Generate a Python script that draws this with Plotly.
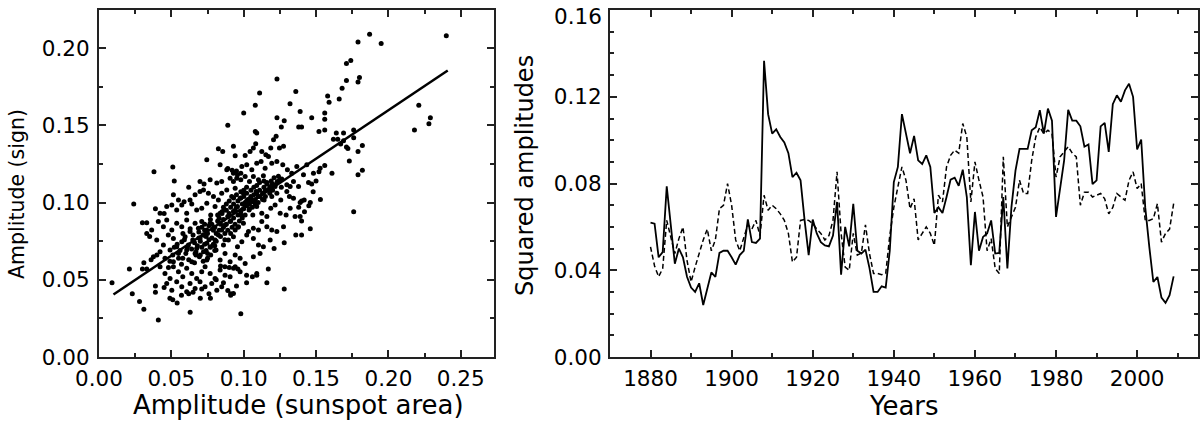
import plotly.graph_objects as go

# ---------------- Left panel: scatter data ----------------
scatter_pts = [
    # outer / sparse points
    (0.187,0.209),(0.240,0.208),(0.179,0.204),(0.195,0.203),(0.174,0.192),(0.171,0.190),(0.180,0.181),
    (0.171,0.179),(0.179,0.178),(0.123,0.180),(0.168,0.174),(0.111,0.171),(0.136,0.172),(0.158,0.169),
    (0.166,0.167),(0.159,0.165),(0.108,0.163),(0.221,0.163),(0.132,0.164),(0.229,0.155),(0.228,0.151),
    (0.218,0.147),(0.100,0.158),(0.139,0.159),(0.123,0.155),(0.147,0.155),(0.156,0.158),(0.156,0.154),
    (0.089,0.150),(0.128,0.153),(0.126,0.149),(0.138,0.149),(0.140,0.149),(0.108,0.146),(0.156,0.147),
    (0.152,0.146),(0.109,0.145),(0.164,0.145),(0.169,0.145),(0.176,0.147),(0.162,0.141),(0.176,0.142),
    (0.182,0.137),(0.179,0.133),(0.171,0.136),(0.167,0.138),(0.165,0.141),(0.169,0.140),(0.172,0.135),
    (0.173,0.127),(0.182,0.121),(0.179,0.118),(0.176,0.094),(0.153,0.102),(0.156,0.124),(0.161,0.119),
    (0.152,0.120),(0.150,0.114),(0.147,0.112),(0.148,0.107),(0.146,0.100),(0.145,0.098),(0.142,0.094),
    (0.140,0.088),(0.146,0.083),(0.140,0.079),(0.136,0.079),(0.140,0.101),(0.138,0.097),(0.128,0.074),
    (0.128,0.044),(0.116,0.048),(0.109,0.053),(0.117,0.057),(0.098,0.028),(0.063,0.029),(0.041,0.024),
    (0.031,0.031),(0.028,0.036),(0.023,0.041),(0.009,0.048),(0.021,0.057),(0.024,0.099),(0.038,0.120),
    (0.051,0.123),(0.052,0.114),(0.062,0.110),(0.033,0.080),(0.030,0.087),(0.033,0.087),(0.039,0.096),
    (0.045,0.093),(0.035,0.078),(0.031,0.061),(0.030,0.057),(0.033,0.057),(0.036,0.063),(0.040,0.066),
    (0.039,0.046),(0.039,0.042),(0.045,0.045),(0.049,0.038),(0.051,0.037),(0.054,0.035),(0.057,0.040),
    (0.065,0.042),(0.062,0.041),(0.070,0.038),(0.077,0.038),(0.076,0.041),(0.071,0.044),(0.081,0.050),
    (0.086,0.048),(0.089,0.043),(0.091,0.041),(0.091,0.040),(0.095,0.046),(0.102,0.053),(0.102,0.048),
    (0.109,0.054),(0.106,0.052),
    # core, 0.13-0.14
    (0.0825,0.1348),(0.0855,0.1331),(0.0929,0.1364),(0.0941,0.1303),(0.1010,0.1305),(0.1044,0.1331),
    (0.1067,0.1353),(0.1083,0.1381),(0.1125,0.1331),(0.1153,0.1310),(0.1187,0.1353),(0.1206,0.1407),
    (0.1224,0.1429),(0.1247,0.1353),(0.1275,0.1364),
    # 0.12-0.13
    (0.0745,0.1277),(0.0837,0.1245),(0.0883,0.1212),(0.0929,0.1190),(0.0952,0.1158),(0.0987,0.1234),
    (0.1021,0.1245),(0.1056,0.1212),(0.1090,0.1255),(0.1120,0.1266),(0.1148,0.1223),(0.1171,0.1299),
    (0.1194,0.1255),(0.1229,0.1266),(0.1270,0.1245),(0.1302,0.1212),(0.1332,0.1190),(0.1367,0.1234),
    (0.1436,0.1245),(0.1482,0.1190),(0.1528,0.1223),
    # 0.11-0.12
    (0.0698,0.1136),(0.0726,0.1121),(0.0768,0.1147),(0.0814,0.1126),(0.0848,0.1136),(0.0906,0.1158),
    (0.0929,0.1136),(0.0957,0.1180),(0.0980,0.1147),(0.1010,0.1169),(0.1040,0.1136),(0.1067,0.1169),
    (0.1102,0.1147),(0.1136,0.1173),(0.1160,0.1130),(0.1194,0.1115),(0.1217,0.1104),(0.1233,0.1136),
    (0.1263,0.1152),(0.1298,0.1115),(0.1321,0.1104),(0.1344,0.1136),(0.1379,0.1104),(0.1413,0.1180),
    (0.1448,0.1130),
    # 0.10-0.11
    (0.0514,0.1050),(0.0549,0.1017),(0.0588,0.1006),(0.0629,0.1017),(0.0664,0.1050),(0.0698,0.1071),
    (0.0722,0.1082),(0.0756,0.1061),(0.0791,0.1039),(0.0825,0.1017),(0.0848,0.1061),(0.0883,0.1082),
    (0.0917,0.1039),(0.0941,0.1093),(0.0975,0.1028),(0.0998,0.1061),(0.1026,0.1017),(0.1049,0.1039),
    (0.1067,0.1006),(0.1086,0.1071),(0.1113,0.1039),(0.1141,0.1017),(0.1171,0.1082),(0.1194,0.1039),
    (0.1229,0.1061),(0.1256,0.1017),(0.1298,0.1071),(0.1316,0.1039),(0.1344,0.1028),(0.1390,0.1000),
    (0.1418,0.1017),
    # 0.09-0.10
    (0.0422,0.0931),(0.0468,0.0974),(0.0503,0.0985),(0.0537,0.0952),(0.0572,0.0985),(0.0606,0.0931),
    (0.0641,0.0991),(0.0675,0.0952),(0.0710,0.0963),(0.0745,0.0996),(0.0772,0.0920),(0.0802,0.0974),
    (0.0837,0.0931),(0.0864,0.0952),(0.0894,0.0909),(0.0929,0.0942),(0.0957,0.0974),(0.0980,0.0920),
    (0.1010,0.0991),(0.1037,0.0952),(0.1063,0.0920),(0.1090,0.0974),(0.1125,0.0931),(0.1160,0.0909),
    (0.1187,0.0963),(0.1217,0.0985),(0.1252,0.0931),(0.1293,0.0920),(0.1321,0.0963),(0.1355,0.0909),
    (0.1390,0.0909),
    # 0.08-0.09
    (0.0364,0.0823),(0.0410,0.0877),(0.0445,0.0844),(0.0468,0.0887),(0.0503,0.0823),(0.0537,0.0866),
    (0.0572,0.0844),(0.0606,0.0887),(0.0629,0.0812),(0.0664,0.0866),(0.0687,0.0833),(0.0710,0.0877),
    (0.0745,0.0823),(0.0768,0.0866),(0.0791,0.0833),(0.0825,0.0877),(0.0848,0.0823),(0.0871,0.0855),
    (0.0906,0.0877),(0.0941,0.0823),(0.0964,0.0844),(0.0998,0.0866),(0.1033,0.0812),(0.1067,0.0833),
    (0.1102,0.0823),(0.1125,0.0877),(0.1160,0.0844),(0.1194,0.0823),(0.1229,0.0812),(0.1275,0.0844),
    # 0.07-0.08
    (0.0399,0.0758),(0.0445,0.0725),(0.0479,0.0790),(0.0514,0.0768),(0.0537,0.0714),(0.0572,0.0747),
    (0.0595,0.0779),(0.0618,0.0725),(0.0648,0.0758),(0.0675,0.0703),(0.0698,0.0768),(0.0722,0.0790),
    (0.0745,0.0736),(0.0768,0.0714),(0.0802,0.0758),(0.0825,0.0790),(0.0860,0.0725),(0.0894,0.0758),
    (0.0929,0.0779),(0.0957,0.0714),(0.0987,0.0747),(0.1021,0.0790),(0.1067,0.0768),(0.1102,0.0725),
    (0.1136,0.0714),(0.1183,0.0758),(0.1210,0.0703),
    # 0.06-0.07
    (0.0376,0.0649),(0.0422,0.0682),(0.0456,0.0639),(0.0491,0.0693),(0.0514,0.0617),(0.0549,0.0671),
    (0.0579,0.0639),(0.0606,0.0693),(0.0641,0.0617),(0.0664,0.0671),(0.0694,0.0649),(0.0722,0.0682),
    (0.0745,0.0628),(0.0772,0.0660),(0.0809,0.0693),(0.0837,0.0628),(0.0871,0.0671),(0.0906,0.0617),
    (0.0941,0.0660),(0.0975,0.0639),(0.1010,0.0606),(0.1067,0.0649),(0.1113,0.0671),
    # 0.05-0.06
    (0.0422,0.0584),(0.0456,0.0541),(0.0491,0.0509),(0.0514,0.0584),(0.0549,0.0552),(0.0579,0.0519),
    (0.0606,0.0574),(0.0641,0.0541),(0.0675,0.0509),(0.0710,0.0552),(0.0733,0.0584),(0.0768,0.0541),
    (0.0802,0.0509),(0.0837,0.0563),(0.0871,0.0530),(0.0906,0.0519),(0.0941,0.0584),(0.0975,0.0552),
    # 0.04-0.05
    (0.0468,0.0476),(0.0503,0.0433),(0.0537,0.0487),(0.0572,0.0455),(0.0606,0.0422),(0.0629,0.0476),
    (0.0664,0.0444),(0.0698,0.0487),(0.0733,0.0455),(0.0779,0.0476),(0.0814,0.0433),(0.0848,0.0455),
    (0.0929,0.0411),
    # dense diagonal band
    (0.049,0.062),(0.051,0.066),(0.052,0.071),(0.048,0.058),
    (0.055,0.064),(0.056,0.069),(0.054,0.073),(0.057,0.060),
    (0.060,0.067),(0.061,0.071),(0.059,0.076),(0.062,0.063),(0.058,0.080),
    (0.064,0.070),(0.066,0.074),(0.065,0.079),(0.067,0.066),(0.063,0.083),(0.066,0.061),
    (0.068,0.072),(0.069,0.077),(0.067,0.068),(0.069,0.081),
    (0.071,0.071),(0.070,0.075),(0.072,0.079),(0.071,0.084),(0.070,0.066),(0.072,0.062),
    (0.073,0.073),(0.074,0.078),(0.073,0.082),(0.074,0.069),(0.073,0.086),(0.075,0.064),
    (0.076,0.076),(0.075,0.080),(0.077,0.071),(0.076,0.085),(0.075,0.067),(0.077,0.089),
    (0.078,0.077),(0.079,0.082),(0.078,0.086),(0.079,0.073),(0.080,0.069),
    (0.081,0.080),(0.080,0.084),(0.082,0.088),(0.081,0.075),(0.082,0.092),(0.080,0.072),
    (0.083,0.082),(0.084,0.086),(0.083,0.090),(0.084,0.078),(0.085,0.094),
    (0.086,0.084),(0.086,0.089),(0.085,0.093),(0.087,0.080),(0.086,0.097),(0.087,0.076),
    (0.088,0.086),(0.089,0.091),(0.088,0.095),(0.089,0.082),(0.088,0.099),
    (0.091,0.088),(0.090,0.093),(0.091,0.097),(0.092,0.084),(0.090,0.101),(0.091,0.080),
    (0.093,0.090),(0.094,0.095),(0.093,0.099),(0.094,0.086),(0.093,0.103),
    (0.096,0.092),(0.095,0.097),(0.096,0.101),(0.097,0.088),(0.095,0.105),(0.096,0.084),
    (0.098,0.094),(0.099,0.099),(0.098,0.103),(0.099,0.090),(0.098,0.107),
    (0.100,0.096),(0.101,0.100),(0.100,0.104),(0.101,0.092),(0.100,0.108),(0.102,0.101),
    (0.102,0.098),(0.103,0.102),(0.102,0.106),(0.103,0.100),(0.102,0.110),
    (0.104,0.099),(0.105,0.103),(0.104,0.096),(0.105,0.108),(0.104,0.101),
    (0.106,0.101),(0.107,0.105),(0.106,0.097),(0.107,0.110),
    (0.108,0.102),(0.109,0.106),(0.108,0.099),(0.109,0.111),
    (0.110,0.104),(0.111,0.108),(0.110,0.100),(0.111,0.113),
    (0.113,0.106),(0.114,0.110),(0.113,0.102),(0.114,0.114),
    (0.115,0.108),(0.116,0.112),(0.115,0.104),
    (0.118,0.110),(0.119,0.114),(0.118,0.106),
    (0.120,0.112),(0.121,0.116),(0.120,0.108),
    (0.123,0.113),(0.124,0.117),(0.125,0.115),(0.126,0.110),
    (0.084,0.059),(0.087,0.0585),(0.090,0.058),(0.093,0.0575),(0.096,0.057),
    (0.089,0.122),(0.092,0.121),(0.095,0.1205),(0.098,0.119),
]
amp_area = [p[0] for p in scatter_pts]
amp_sign = [p[1] for p in scatter_pts]

fit_x = [0.010, 0.241]
fit_y = [0.0405, 0.1855]

# ---------------- Right panel: time series ----------------
years = list(range(1880, 2010))
solid = [
    0.062, 0.0615, 0.046, 0.0484, 0.0787, 0.060, 0.043, 0.050, 0.046, 0.037,   # 1880-1889
    0.032, 0.030, 0.034, 0.024, 0.032, 0.039, 0.037, 0.048, 0.049, 0.049,      # 1890-1899
    0.046, 0.0426, 0.047, 0.049, 0.0635, 0.053, 0.0526, 0.0546, 0.1366, 0.112, # 1900-1909
    0.103, 0.105, 0.1015, 0.099, 0.094, 0.083, 0.085, 0.0815, 0.063, 0.047,    # 1910-1919
    0.0634, 0.057, 0.053, 0.0515, 0.051, 0.056, 0.0715, 0.038, 0.060, 0.051,   # 1920-1929
    0.0707, 0.049, 0.0477, 0.0495, 0.041, 0.030, 0.030, 0.0326, 0.032, 0.049,  # 1930-1939
    0.0807, 0.0877, 0.112, 0.103, 0.094, 0.102, 0.0907, 0.089, 0.093, 0.0877, # 1940-1949
    0.0664, 0.069, 0.0664, 0.0738, 0.0818, 0.0827, 0.079, 0.0864, 0.0738, 0.0423, # 1950-1959
    0.0669, 0.049, 0.0554, 0.057, 0.063, 0.0477, 0.048, 0.0738, 0.0408, 0.069, # 1960-1969
    0.086, 0.096, 0.096, 0.096, 0.1046, 0.106, 0.1138, 0.103, 0.1146, 0.109,   # 1970-1979
    0.0646, 0.077, 0.0907, 0.114, 0.109, 0.109, 0.1064, 0.097, 0.098, 0.0797,  # 1980-1989
    0.0815, 0.1064, 0.108, 0.0946, 0.1166, 0.1207, 0.1177, 0.123, 0.126, 0.120, # 1990-1999
    0.0957, 0.1003, 0.069, 0.0508, 0.0346, 0.0369, 0.0274, 0.025, 0.0285, 0.0372, # 2000-2009
]
dashed = [
    0.0508, 0.042, 0.037, 0.0408, 0.063, 0.055, 0.0477, 0.0546, 0.060, 0.0446, # 1880-1889
    0.0346, 0.0415, 0.0477, 0.054, 0.059, 0.049, 0.054, 0.0684, 0.070, 0.080,  # 1890-1899
    0.070, 0.054, 0.049, 0.055, 0.061, 0.059, 0.063, 0.056, 0.0746, 0.0677,    # 1900-1909
    0.070, 0.0684, 0.066, 0.063, 0.057, 0.0438, 0.046, 0.063, 0.0634, 0.063,   # 1910-1919
    0.0615, 0.059, 0.057, 0.054, 0.056, 0.063, 0.0854, 0.057, 0.0415, 0.040,   # 1920-1929
    0.057, 0.047, 0.048, 0.061, 0.0477, 0.0385, 0.0385, 0.038, 0.0385, 0.056,  # 1930-1939
    0.069, 0.0785, 0.0877, 0.0815, 0.0684, 0.073, 0.054, 0.057, 0.060, 0.057,  # 1940-1949
    0.0515, 0.0746, 0.0715, 0.0877, 0.093, 0.0954, 0.094, 0.1077, 0.1015, 0.0715, # 1950-1959
    0.090, 0.0815, 0.0738, 0.049, 0.0546, 0.0408, 0.0385, 0.0923, 0.060, 0.0646, # 1960-1969
    0.069, 0.0815, 0.0754, 0.0754, 0.0907, 0.1015, 0.106, 0.103, 0.1046, 0.103, # 1970-1979
    0.083, 0.0923, 0.0946, 0.097, 0.094, 0.0923, 0.070, 0.076, 0.076, 0.0738,  # 1980-1989
    0.0746, 0.0754, 0.073, 0.066, 0.069, 0.0754, 0.0738, 0.0723, 0.0815, 0.0854, # 1990-1999
    0.0777, 0.080, 0.063, 0.063, 0.0638, 0.0707, 0.053, 0.057, 0.059, 0.0707,  # 2000-2009
]

# right-panel y tick values/labels (the top label is nudged down, as in the original)
sq_tickvals = [0.00, 0.04, 0.08, 0.12, 0.16]
sq_ticktext = ["0.00", "0.04", "0.08", "0.12", ""]
sq_top_label = "0.16"

FONT = "DejaVu Sans"
AX = "#222222"

fig = go.Figure()
fig.add_trace(go.Scatter(x=amp_area, y=amp_sign, mode="markers",
                         marker=dict(color="black", size=5, line=dict(width=0)),
                         xaxis="x", yaxis="y", showlegend=False, hoverinfo="skip"))
fig.add_trace(go.Scatter(x=fit_x, y=fit_y, mode="lines",
                         line=dict(color="black", width=2.5),
                         xaxis="x", yaxis="y", showlegend=False, hoverinfo="skip"))
fig.add_trace(go.Scatter(x=years, y=dashed, mode="lines",
                         line=dict(color="black", width=1.5, dash="5px,3px"),
                         xaxis="x2", yaxis="y2", showlegend=False, hoverinfo="skip"))
fig.add_trace(go.Scatter(x=years, y=solid, mode="lines",
                         line=dict(color="black", width=1.8),
                         xaxis="x2", yaxis="y2", showlegend=False, hoverinfo="skip"))

common = dict(showline=True, linecolor=AX, linewidth=2, mirror="ticks",
              ticks="inside", ticklen=7, tickwidth=1.5, tickcolor=AX,
              showgrid=False, zeroline=False, automargin=False,
              ticklabeloverflow="allow",
              tickfont=dict(family=FONT, size=21.5, color="black"))
minor_common = dict(ticks="inside", ticklen=4, tickwidth=1.5, tickcolor=AX)

fig.update_layout(
    width=1200, height=421,
    margin=dict(l=0, r=0, t=10, b=64),
    paper_bgcolor="white", plot_bgcolor="white",
    xaxis=dict(domain=[0.0825, 0.4117], range=[0, 0.273], tick0=0, dtick=0.05,
               tickformat=".2f", ticklabelstandoff=1,
               minor=dict(dtick=0.025, **minor_common),
               anchor="y", **common),
    yaxis=dict(domain=[0, 1], range=[0, 0.2247], tick0=0, dtick=0.05,
               tickformat=".2f", ticklabelstandoff=3,
               minor=dict(dtick=0.025, **minor_common),
               anchor="x", **common),
    xaxis2=dict(domain=[0.5083, 0.9983], range=[1870, 2015], tick0=1880, dtick=20,
                ticklabelstandoff=1,
                minor=dict(dtick=10, **minor_common),
                anchor="y2", **common),
    yaxis2=dict(domain=[0, 1], range=[0, 0.16005], tickmode="array",
                tickvals=sq_tickvals, ticktext=sq_ticktext, ticklabelstandoff=2,
                minor=dict(dtick=0.01, **minor_common),
                anchor="x2", **common),
    annotations=[
        dict(text=sq_top_label, xref="paper", yref="y2",
             x=0.5083, y=sq_tickvals[-1], xanchor="right", yanchor="middle",
             xshift=-6, yshift=-6, showarrow=False,
             font=dict(family=FONT, size=21.5, color="black")),
        dict(text="Amplitude (sunspot area)", xref="paper", yref="paper",
             x=0.2488, y=-0.138, xanchor="center", yanchor="middle", showarrow=False,
             font=dict(family=FONT, size=26, color="black")),
        dict(text="Amplitude (sign)", xref="paper", yref="paper",
             x=0.0142, y=0.47, xanchor="center", yanchor="middle", showarrow=False,
             textangle=-90, font=dict(family=FONT, size=20.5, color="black")),
        dict(text="Years", xref="paper", yref="paper",
             x=0.7533, y=-0.141, xanchor="center", yanchor="middle", showarrow=False,
             font=dict(family=FONT, size=26, color="black")),
        dict(text="Squared amplitudes", xref="paper", yref="paper",
             x=0.4375, y=0.5216, xanchor="center", yanchor="middle", showarrow=False,
             textangle=-90, font=dict(family=FONT, size=24, color="black")),
    ],
)

# remove the default 8px page margin so the figure sits at the window's top-left corner
fig.write_html("out.html", config={"displayModeBar": False},
               post_script="document.body.style.margin='0px';")
